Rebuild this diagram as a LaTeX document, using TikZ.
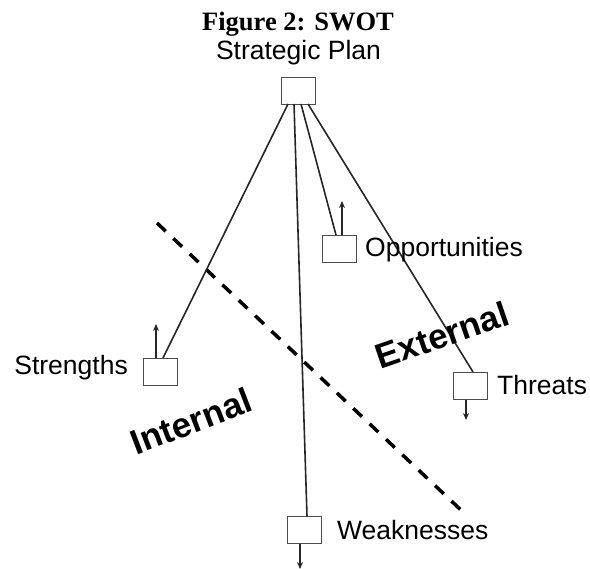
\documentclass[tikz,border=0pt]{standalone}
\usepackage{fontspec}
\setmainfont{Liberation Sans}
\newfontfamily\serifbold{Liberation Serif}
\usetikzlibrary{arrows.meta}
\begin{document}
\begin{tikzpicture}[x=1pt,y=-1pt,
  boxnode/.style={draw=black!70,line width=1.2pt,fill=white,minimum width=34pt,minimum height=27pt,inner sep=0pt},
  label/.style={font=\fontsize{26.5}{30}\selectfont,inner sep=0pt},
  biglabel/.style={font=\fontsize{35}{40}\selectfont\bfseries,inner sep=0pt},
  conn/.style={line width=1.6pt,draw=black!85},
  uparrow/.style={line width=1.6pt,draw=black!85,-{Stealth[length=7pt,width=6pt]}},
  divider/.style={line width=3.5pt,dash pattern=on 12pt off 10.5pt}]
\useasboundingbox (0,0) rectangle (590,569);
% title
\node[anchor=base,inner sep=0pt,font=\serifbold\fontsize{26.5}{30}\selectfont\bfseries] (title) at (298,31) {Figure 2: SWOT};
\node[label,anchor=base] (plan) at (298.5,60) {Strategic Plan};
% boxes
\node[boxnode,anchor=north west] (top) at (281,77) {};
\node[boxnode,anchor=north west] (str) at (143,358) {};
\node[boxnode,anchor=north west] (opp) at (322,235) {};
\node[boxnode,anchor=north west] (thr) at (453,372) {};
\node[boxnode,anchor=north west] (wea) at (287,516) {};
% connector anchors
\coordinate (t1) at (288,104);
\coordinate (t2) at (294,104);
\coordinate (t3) at (301,104);
\coordinate (t4) at (308,104);
\coordinate (s1) at (163,358);
\coordinate (w1) at (307,516);
\coordinate (o1) at (336,235);
\coordinate (h1) at (473,372);
% divider
\coordinate (d1) at (157,223);
\coordinate (d2) at (463,512);
\draw[divider] (d1) -- (d2);
% connectors
\draw[conn] (t1) -- (s1);
\draw[conn] (t2) -- (w1);
\draw[conn] (t3) -- (o1);
\draw[conn] (t4) -- (h1);
% arrows
\coordinate (sa) at (156,324);
\coordinate (oa) at (342,201);
\coordinate (ha) at (466,420);
\coordinate (wa) at (300,569);
\draw[uparrow] (str.north -| sa) -- (sa);
\draw[uparrow] (opp.north -| oa) -- (oa);
\draw[uparrow] (thr.south -| ha) -- (ha);
\draw[uparrow] (wea.south -| wa) -- (wa);
% labels
\node[label,anchor=base east] (strl) at (128,375) {Strengths};
\node[label,anchor=base west] (oppl) at (365,257) {Opportunities};
\node[label,anchor=base west] (thrl) at (497,395) {Threats};
\node[label,anchor=base west] (weal) at (337,540) {Weaknesses};
\node[biglabel,rotate=21] (int) at (191,421) {Internal};
\node[biglabel,rotate=19] (ext) at (442,335) {External};
\end{tikzpicture}
\end{document}
